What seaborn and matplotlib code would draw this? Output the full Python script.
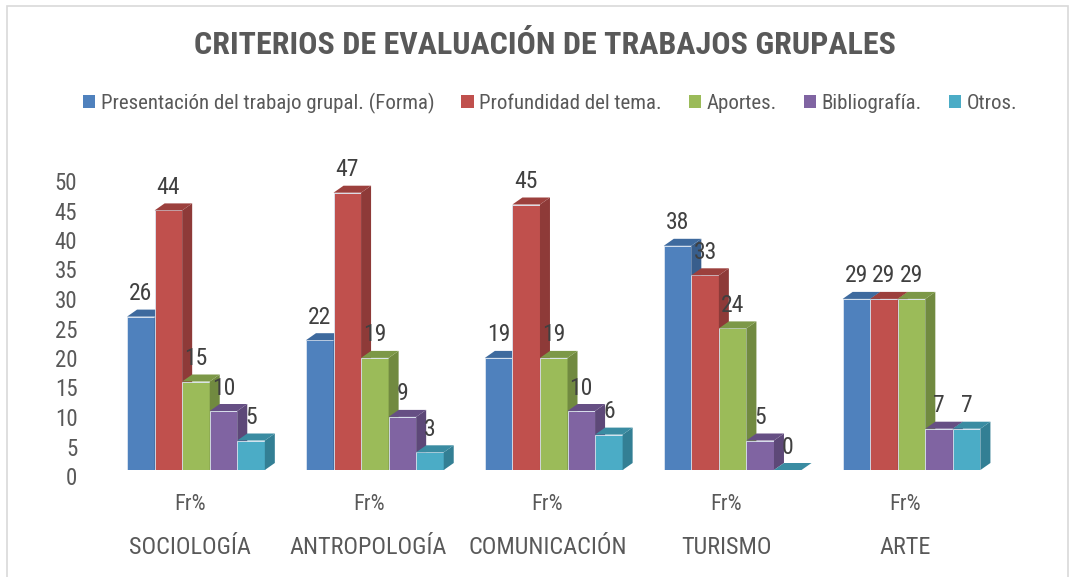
import matplotlib
matplotlib.use("Agg")
import matplotlib.pyplot as plt
import matplotlib.transforms as mtransforms
from matplotlib.patches import Polygon, Rectangle, Patch
import seaborn as sns
import pandas as pd

# ---- data ----
departments = ["SOCIOLOGÍA", "ANTROPOLOGÍA", "COMUNICACIÓN", "TURISMO", "ARTE"]
sub_label = "Fr%"
series_names = ["Presentación del trabajo grupal. (Forma)", "Profundidad del tema.",
                "Aportes.", "Bibliografía.", "Otros."]
presentacion = [26, 22, 19, 38, 29]
profundidad = [44, 47, 45, 33, 29]
aportes = [15, 19, 19, 24, 29]
bibliografia = [10, 9, 10, 5, 7]
otros = [5, 3, 6, 0, 7]
title = "CRITERIOS DE EVALUACIÓN DE TRABAJOS GRUPALES"
yticks = list(range(0, 51, 5))

colors = ["#4F81BD", "#C0504D", "#9BBB59", "#8064A2", "#4BACC6"]
side_colors = ["#385E8C", "#8E3A38", "#718A40", "#5D4878", "#337F94"]
top_colors = ["#3E6A9E", "#9C403D", "#7C9847", "#664F84", "#3A8CA2"]

values = [presentacion, profundidad, aportes, bibliografia, otros]
rows = []
for name, vals in zip(series_names, values):
    for d, v in zip(departments, vals):
        rows.append({"dept": d, "serie": name, "valor": v})
df = pd.DataFrame(rows)

sns.set_theme(style="white")
plt.rcParams["font.family"] = ["Roboto Condensed", "DejaVu Sans"]
text_color = "#595959"

fig = plt.figure(figsize=(10.75, 5.77), dpi=100)
W, H = 1075, 577
ax = fig.add_axes([106.5 / W, (H - 470) / H, 894.5 / W, 295 / H])

sns.barplot(data=df, x="dept", y="valor", hue="serie", order=departments,
            hue_order=series_names, palette=colors, width=0.77, gap=0,
            dodge=True, legend=False, ax=ax, edgecolor="#DCE6F2", linewidth=0.6,
            saturation=1)

ax.set_xlim(-0.5, 4.5)
ax.set_ylim(0, 50)

# 3D depth in data units
dx = 10 / 179.0
dy = 7 / 5.9

for k, cont in enumerate(ax.containers):
    for bar, val in zip(cont.patches, cont.datavalues):
        x0 = bar.get_x()
        w = bar.get_width()
        h = bar.get_height()
        bar.set_zorder(2 + k)
        side = Polygon([(x0 + w, 0), (x0 + w + dx, dy), (x0 + w + dx, h + dy), (x0 + w, h)],
                       closed=True, facecolor=side_colors[k], edgecolor="none",
                       zorder=2 + k + 0.5)
        top = Polygon([(x0, h), (x0 + dx, h + dy), (x0 + w + dx, h + dy), (x0 + w, h)],
                      closed=True, facecolor=top_colors[k], edgecolor="none",
                      zorder=2 + k + 0.5)
        ax.add_patch(side)
        ax.add_patch(top)
        ax.annotate(f"{val:g}", xy=(x0 + w / 2, h), xytext=(0, 16.5),
                    textcoords="offset points", ha="center", va="center",
                    fontsize=17, color="#404040", zorder=20, annotation_clip=False)

# axes styling
for s in ax.spines.values():
    s.set_visible(False)
ax.set_xlabel("")
ax.set_ylabel("")
ax.set_yticks(yticks)
ax.set_yticklabels([str(t) for t in yticks], fontsize=16.5, color=text_color)
ax.tick_params(axis="y", length=0, pad=21)
offset = mtransforms.ScaledTranslation(0, -6 / 100, fig.dpi_scale_trans)
for lab in ax.get_yticklabels():
    lab.set_transform(lab.get_transform() + offset)

ax.set_xticks(range(len(departments)))
ax.set_xticklabels([])
ax.tick_params(axis="x", length=0)
for i, d in enumerate(departments):
    ax.annotate(sub_label, xy=(i, 0), xycoords=("data", "axes fraction"),
                xytext=(-4.5, -25), textcoords="offset points", ha="center", va="center",
                fontsize=16, color=text_color)
    ax.annotate(d, xy=(i, 0), xycoords=("data", "axes fraction"),
                xytext=(-4.5, -56), textcoords="offset points", ha="center", va="center",
                fontsize=17.5, color=text_color)

# title
fig.text(545 / W, (H - 45) / H, title, ha="center", va="center", fontsize=23,
         fontweight="bold", color=text_color)

# legend
handles = [Patch(facecolor=c, edgecolor="none") for c in colors]
fig.legend(handles, series_names, loc="center", bbox_to_anchor=(550 / W, (H - 103) / H),
           ncol=5, frameon=False, fontsize=15, handlelength=0.6, handleheight=0.6,
           handletextpad=0.25, columnspacing=1.3, labelcolor=text_color)

# chart border
fig.patches.append(Rectangle((7 / W, -0.01), (1068 - 7) / W, (H - 6) / H + 0.01,
                             transform=fig.transFigure, fill=False, edgecolor="#D9D9D9",
                             linewidth=1.2))

fig.savefig("out.png", dpi=100)
